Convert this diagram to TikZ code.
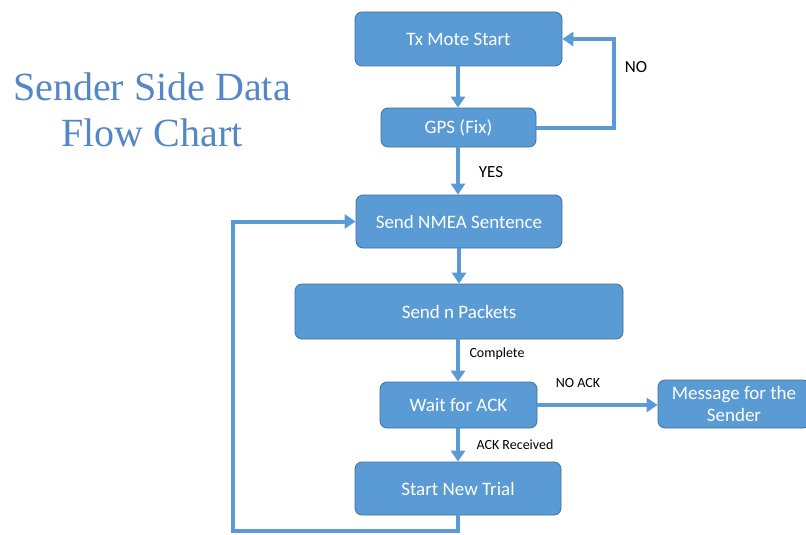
\documentclass[tikz,border=0pt]{standalone}
\usepackage{fontspec}
\setmainfont{Carlito}
\newfontfamily\titlefont{Liberation Serif}
\usetikzlibrary{arrows.meta}
\definecolor{boxblue}{RGB}{91,155,213}
\definecolor{boxedge}{RGB}{65,113,156}
\definecolor{titleblue}{RGB}{84,135,200}
\begin{document}
\begin{tikzpicture}[x=1pt,y=-1pt,
  flowbox/.style={draw=boxedge,line width=0.8pt,fill=boxblue,rounded corners=7pt,
    text=white,font=\fontsize{19}{22}\selectfont,align=center,inner sep=0pt},
  conn/.style={draw=boxblue,line width=4pt},
  arr/.style={conn,-{Triangle[length=11pt,width=14pt]}},
  lbl/.style={font=\fontsize{17}{20}\selectfont,text=black,inner sep=0pt},
  small/.style={font=\fontsize{14}{16}\selectfont,text=black,inner sep=0pt}
]
\useasboundingbox (0,0) rectangle (806,535);
\fill[white] (0,0) rectangle (806,535);

\node[font=\titlefont\fontsize{40}{45}\selectfont,text=titleblue,anchor=base] (title1) at (152,100) {Sender Side Data};
\node[font=\titlefont\fontsize{40}{45}\selectfont,text=titleblue,anchor=base] (title2) at (152,146) {Flow Chart};

\node[flowbox,minimum width=207pt,minimum height=54pt] (tx) at (458.5,39) {Tx Mote Start};
\node[flowbox,minimum width=155pt,minimum height=39pt] (gps) at (458.5,127.5) {GPS (Fix)};
\node[flowbox,minimum width=206pt,minimum height=53pt] (nmea) at (459,221.5) {Send NMEA Sentence};
\node[flowbox,minimum width=328pt,minimum height=55pt] (pkt) at (459,311.5) {Send n Packets};
\node[flowbox,minimum width=157pt,minimum height=46pt] (wait) at (458.5,405) {Wait for ACK};
\node[flowbox,minimum width=152pt,minimum height=48pt] (msg) at (734,404) {Message for the\\Sender};
\node[flowbox,minimum width=206pt,minimum height=53pt] (trial) at (458,488.5) {Start New Trial};

\coordinate (noR) at (614,127.5);
\coordinate (noT) at (614,39);
\coordinate (loopB) at (458,531);
\coordinate (loopL) at (233,531);
\coordinate (loopT) at (233,221.5);

\draw[arr] (tx.south -| 458,0) -- (gps.north -| 458,0);
\draw[arr] (gps.east) -- (noR) -- (noT) -- (tx.east);
\draw[arr] (gps.south -| 458,0) -- (nmea.north -| 458,0);
\draw[arr] (nmea.south -| 459,0) -- (pkt.north -| 459,0);
\draw[arr] (pkt.south -| 458,0) -- (wait.north -| 458,0);
\draw[arr] (wait.east) -- (msg.west |- wait.east);
\draw[arr] (wait.south -| 458,0) -- (trial.north -| 458,0);
\draw[arr] (trial.south -| 458,0) -- (loopB) -- (loopL) -- (loopT) -- (nmea.west);

\node[lbl] (lno) at (636,67) {NO};
\node[lbl] (lyes) at (491,172) {YES};
\node[small] (lcomp) at (497,354) {Complete};
\node[small] (lnoack) at (578,383) {NO ACK};
\node[small] (lack) at (515,445) {ACK Received};
\end{tikzpicture}
\end{document}
